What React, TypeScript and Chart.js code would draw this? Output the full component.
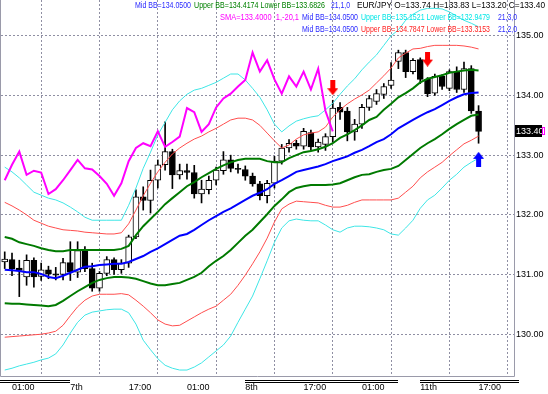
import React, { useEffect, useRef } from 'react';
import Chart from 'chart.js/auto';

// ---- Candles (EUR/JPY), one entry per bar ----
const opens = [
  131.21, 131.25, 131.11, 130.96, 131.24, 130.97, 131.08, 131.01, 131.00, 131.20,
  131.04, 131.41, 131.10, 130.77, 131.02, 131.25, 131.08, 131.19, 131.63, 132.30,
  132.24, 132.58, 132.84, 133.06, 132.67, 132.74, 132.71, 132.35, 132.42, 132.58,
  132.74, 132.92, 132.78, 132.76, 132.65, 132.52, 132.32, 132.53, 132.90, 133.12,
  133.20, 133.15, 133.38, 133.14, 133.18, 133.31, 133.80, 133.74, 133.39, 133.52,
  133.80, 133.90, 134.02, 134.17, 134.57, 134.72, 134.40, 134.60, 134.27, 134.04,
  134.32, 134.12, 134.40, 134.10, 134.45, 133.74,
];
const highs = [
  131.38, 131.36, 131.24, 131.33, 131.28, 131.19, 131.14, 131.12, 131.27, 131.55,
  131.55, 131.47, 131.19, 131.05, 131.30, 131.28, 131.25, 131.66, 132.42, 132.47,
  132.75, 132.92, 133.56, 133.10, 132.85, 132.85, 132.83, 132.58, 132.65, 132.80,
  133.06, 133.00, 132.85, 132.82, 132.70, 132.56, 132.58, 132.98, 133.18, 133.26,
  133.25, 133.45, 133.42, 133.27, 133.36, 133.92, 133.88, 133.80, 133.60, 133.85,
  134.00, 134.10, 134.20, 134.55, 134.76, 134.76, 134.62, 134.63, 134.30, 134.36,
  134.35, 134.43, 134.48, 134.56, 134.50, 133.83,
];
const lows = [
  131.10, 130.98, 130.63, 130.82, 130.79, 130.90, 130.93, 130.91, 130.91, 130.90,
  130.95, 131.05, 130.72, 130.72, 130.98, 131.00, 131.02, 131.12, 131.60, 132.08,
  132.03, 132.45, 132.75, 132.44, 132.60, 132.60, 132.28, 132.20, 132.35, 132.50,
  132.68, 132.72, 132.70, 132.58, 132.48, 132.25, 132.20, 132.45, 132.85, 133.05,
  133.10, 133.10, 133.08, 133.05, 133.08, 133.22, 133.60, 133.24, 133.25, 133.45,
  133.75, 133.85, 133.95, 134.12, 134.45, 134.30, 134.36, 134.20, 133.98, 134.00,
  134.10, 134.08, 134.05, 134.05, 133.70, 133.20,
];
const closes = [
  131.26, 131.10, 131.07, 131.24, 130.96, 131.08, 131.01, 130.99, 131.20, 131.04,
  131.40, 131.10, 130.77, 131.02, 131.25, 131.08, 131.19, 131.63, 132.30, 132.24,
  132.58, 132.84, 133.06, 132.67, 132.74, 132.71, 132.35, 132.43, 132.58, 132.75,
  132.92, 132.78, 132.76, 132.65, 132.52, 132.32, 132.53, 132.90, 133.12, 133.20,
  133.15, 133.40, 133.14, 133.22, 133.31, 133.79, 133.72, 133.39, 133.52, 133.80,
  133.95, 134.03, 134.15, 134.26, 134.72, 134.40, 134.59, 134.27, 134.03, 134.32,
  134.15, 134.40, 134.10, 134.45, 133.74, 133.40,
];

// ---- Bollinger bands (21 period), read per bar ----
const midBB = [
  131.08, 131.07, 131.06, 131.04, 131.04, 131.01, 130.96, 130.94, 130.98, 131.03,
  131.08, 131.13, 131.14, 131.16, 131.17, 131.18, 131.18, 131.21, 131.26, 131.31,
  131.38, 131.44, 131.51, 131.58, 131.65, 131.68, 131.75, 131.83, 131.91, 131.98,
  132.05, 132.11, 132.18, 132.25, 132.32, 132.37, 132.43, 132.52, 132.58, 132.65,
  132.72, 132.75, 132.78, 132.81, 132.85, 132.90, 132.94, 132.98, 133.04, 133.09,
  133.15, 133.22, 133.27, 133.35, 133.45, 133.52, 133.59, 133.66, 133.72, 133.77,
  133.84, 133.91, 133.97, 134.02, 134.04, 134.05,
];
const upperBB1 = [
  131.63, 131.60, 131.54, 131.51, 131.48, 131.44, 131.41, 131.39, 131.39, 131.41,
  131.41, 131.41, 131.41, 131.41, 131.41, 131.41, 131.43, 131.48, 131.66, 131.81,
  131.93, 132.05, 132.18, 132.28, 132.38, 132.48, 132.55, 132.63, 132.70, 132.77,
  132.83, 132.88, 132.92, 132.94, 132.94, 132.94, 132.90, 132.88, 132.88, 132.95,
  133.00, 133.05, 133.07, 133.10, 133.14, 133.20, 133.29, 133.35, 133.42, 133.50,
  133.59, 133.64, 133.76, 133.86, 133.97, 134.04, 134.12, 134.22, 134.28, 134.31,
  134.34, 134.38, 134.40, 134.42, 134.43, 134.42,
];
const lowerBB1 = [
  130.52, 130.51, 130.51, 130.50, 130.49, 130.48, 130.47, 130.49, 130.56, 130.64,
  130.72, 130.79, 130.86, 130.91, 130.94, 130.96, 130.96, 130.95, 130.93, 130.89,
  130.85, 130.82, 130.82, 130.84, 130.86, 130.91, 130.96, 131.03, 131.14, 131.23,
  131.31, 131.41, 131.53, 131.65, 131.75, 131.88, 132.01, 132.15, 132.26, 132.38,
  132.45, 132.48, 132.50, 132.50, 132.50, 132.51, 132.53, 132.58, 132.63, 132.67,
  132.68, 132.72, 132.75, 132.77, 132.82, 132.92, 133.02, 133.12, 133.20, 133.27,
  133.35, 133.44, 133.52, 133.59, 133.66, 133.68,
];
const upperBB2 = [
  132.21, 132.15, 132.08, 132.00, 131.91, 131.86, 131.81, 131.78, 131.75, 131.74,
  131.73, 131.71, 131.70, 131.69, 131.68, 131.68, 131.70, 131.85, 132.08, 132.32,
  132.53, 132.72, 132.88, 133.02, 133.12, 133.20, 133.27, 133.32, 133.39, 133.45,
  133.52, 133.59, 133.62, 133.62, 133.59, 133.50, 133.37, 133.24, 133.12, 133.17,
  133.27, 133.34, 133.37, 133.39, 133.47, 133.64, 133.76, 133.86, 133.94, 134.01,
  134.09, 134.21, 134.33, 134.46, 134.63, 134.71, 134.78, 134.79, 134.82, 134.84,
  134.84, 134.84, 134.84, 134.83, 134.81, 134.78,
];
const lowerBB2 = [
  129.95, 129.96, 129.97, 129.98, 129.99, 130.00, 130.02, 130.05, 130.15, 130.31,
  130.46, 130.57, 130.64, 130.67, 130.67, 130.67, 130.68, 130.66, 130.57, 130.47,
  130.36, 130.24, 130.17, 130.14, 130.15, 130.22, 130.29, 130.36, 130.42, 130.47,
  130.57, 130.67, 130.82, 130.99, 131.18, 131.38, 131.61, 131.88, 132.10, 132.18,
  132.23, 132.22, 132.21, 132.20, 132.16, 132.13, 132.13, 132.16, 132.21, 132.25,
  132.25, 132.25, 132.25, 132.25, 132.28, 132.38, 132.48, 132.62, 132.72, 132.80,
  132.88, 132.99, 133.09, 133.19, 133.25, 133.32,
];
const upperBB3 = [
  132.80, 132.72, 132.62, 132.50, 132.38, 132.33, 132.28, 132.25, 132.20, 132.13,
  132.05, 131.96, 131.91, 131.91, 131.91, 131.91, 131.91, 132.16, 132.45, 132.78,
  133.05, 133.34, 133.55, 133.76, 133.91, 134.02, 134.09, 134.12, 134.17, 134.22,
  134.29, 134.36, 134.36, 134.26, 134.12, 133.97, 133.76, 133.52, 133.39, 133.49,
  133.57, 133.61, 133.64, 133.66, 133.76, 133.87, 134.02, 134.16, 134.28, 134.43,
  134.56, 134.68, 134.84, 135.00, 135.10, 135.26, 135.36, 135.43, 135.46, 135.46,
  135.45, 135.40, 135.33, 135.26, 135.21, 135.15,
];
const lowerBB3 = [
  129.40, 129.43, 129.47, 129.50, 129.53, 129.57, 129.60, 129.67, 129.82, 130.02,
  130.20, 130.32, 130.37, 130.39, 130.41, 130.42, 130.42, 130.36, 130.17, 129.90,
  129.74, 129.59, 129.48, 129.43, 129.40, 129.40, 129.45, 129.52, 129.62, 129.72,
  129.82, 129.97, 130.20, 130.42, 130.64, 130.93, 131.23, 131.54, 131.78, 131.90,
  131.93, 131.91, 131.90, 131.90, 131.83, 131.75, 131.71, 131.78, 131.81, 131.81,
  131.80, 131.78, 131.75, 131.68, 131.66, 131.78, 131.91, 132.11, 132.25, 132.33,
  132.45, 132.58, 132.68, 132.80, 132.88, 132.95,
];
// SMA(1) shifted -20 bars
const smaShift = [
  132.58, 132.84, 133.06, 132.67, 132.74, 132.71, 132.35, 132.43, 132.58, 132.75,
  132.92, 132.78, 132.76, 132.65, 132.52, 132.32, 132.53, 132.90, 133.12, 133.20,
  133.15, 133.40, 133.14, 133.22, 133.31, 133.79, 133.72, 133.39, 133.52, 133.80,
  133.95, 134.03, 134.15, 134.26, 134.72, 134.40, 134.59, 134.27, 134.03, 134.32,
  134.15, 134.40, 134.10, 134.45, 133.74, 133.40,
];

// ---- Signals ----
const sellSignals = [{ x: 45, y: 134.13 }, { x: 58, y: 134.61 }];
const buySignals = [{ x: 65, y: 132.93 }];

// ---- Axes ----
const tickBars = [1, 9, 17, 25, 33, 41, 49, 57, 65];
const tickLabels = ['01:00', '7th', '17:00', '01:00', '8th', '17:00', '01:00', '11th', '17:00'];
const priceTicks = [130, 131, 132, 133, 134, 135];
const daySpans = [[-1, 9], [33, 54], [57, 70.6]];
const lastPrice = 133.4;

const FONT = "'Liberation Sans', Arial, sans-serif";

export default function App() {
  const ref = useRef<HTMLCanvasElement>(null);

  useEffect(() => {
    document.body.style.margin = '0';
    const canvas = ref.current;
    if (!canvas) return;

    const mkArrow = (color: string, down: boolean) => {
      const c = document.createElement('canvas');
      c.width = 11;
      c.height = 15;
      const g = c.getContext('2d')!;
      g.fillStyle = color;
      if (down) {
        g.fillRect(3, 0, 5, 8);
        g.beginPath();
        g.moveTo(0, 8);
        g.lineTo(11, 8);
        g.lineTo(5.5, 15);
        g.closePath();
        g.fill();
      } else {
        g.beginPath();
        g.moveTo(5.5, 0);
        g.lineTo(11, 7);
        g.lineTo(0, 7);
        g.closePath();
        g.fill();
        g.fillRect(3, 7, 5, 8);
      }
      return c;
    };

    const idx = closes.map((_, i) => i);
    const pts = (arr: number[]) => arr.map((v, i) => ({ x: i, y: v }));
    const gridColor = '#8f8fa3';

    const lineDs = (label: string, arr: number[], color: string, width: number, order: number) => ({
      type: 'line' as const,
      label,
      data: pts(arr),
      borderColor: color,
      borderWidth: width,
      pointRadius: 0,
      tension: 0,
      fill: false,
      order,
    });

    const overlay = {
      id: 'overlay',
      afterDraw(chart: any) {
        const { ctx, chartArea, scales } = chart;
        const xs = scales.x;
        const ys = scales.y;
        ctx.save();
        // frame
        ctx.strokeStyle = '#9a9aaa';
        ctx.lineWidth = 1;
        ctx.beginPath();
        ctx.moveTo(chartArea.left - 0.5, chartArea.top);
        ctx.lineTo(chartArea.left - 0.5, chartArea.bottom + 0.5);
        ctx.lineTo(chartArea.right + 0.5, chartArea.bottom + 0.5);
        ctx.lineTo(chartArea.right + 0.5, chartArea.top);
        ctx.stroke();
        // day separator double lines
        ctx.strokeStyle = '#000';
        daySpans.forEach(([a, b]) => {
          const x1 = Math.max(0, Math.round(xs.getPixelForValue(a)));
          const x2 = Math.round(xs.getPixelForValue(b));
          [4.5, 6.5].forEach((dy) => {
            ctx.beginPath();
            ctx.moveTo(x1, chartArea.bottom + dy);
            ctx.lineTo(x2, chartArea.bottom + dy);
            ctx.stroke();
          });
        });
        // current price label
        const py = Math.round(ys.getPixelForValue(lastPrice));
        ctx.fillStyle = '#000';
        ctx.fillRect(chartArea.right + 1, py - 6, 27, 12);
        ctx.fillStyle = '#fff';
        ctx.font = `9px ${FONT}`;
        ctx.textBaseline = 'middle';
        ctx.textAlign = 'left';
        ctx.fillText(lastPrice.toFixed(2), chartArea.right + 2, py + 0.5);
        ctx.strokeStyle = '#ff00ff';
        ctx.strokeRect(chartArea.right + 28.5, py - 3.5, 2, 7);
        // indicator legends
        const blue = '#2a2aff';
        const items: [string, string, number, number, number][] = [
          ['Mid BB=134.0500', blue, 135, 6, 56],
          ['Upper BB=134.4174 Lower BB=133.6826', '#008000', 194, 6, 131],
          ['21,1,0', blue, 331, 6, 19],
          ['EUR/JPY O=133.74 H=133.83 L=133.20 C=133.40', '#000', 357, 6, 188],
          ['SMA=133.4000  1,-20,1', '#ff00ff', 220, 18, 79],
          ['Mid BB=134.0500', blue, 302, 18, 56],
          ['Upper BB=135.1521 Lower BB=132.9479', '#00e6e6', 361, 18, 129],
          ['21,3,0', blue, 498, 18, 19],
          ['Mid BB=134.0500', blue, 302, 30, 56],
          ['Upper BB=134.7847 Lower BB=133.3153', '#ff2020', 361, 30, 129],
          ['21,2,0', blue, 498, 30, 19],
        ];
        items.forEach(([t, c, x, y, w]) => {
          ctx.fillStyle = c;
          ctx.fillText(t, x, y, w);
        });
        ctx.restore();
      },
    };

    const chart = new Chart(canvas, {
      type: 'bar',
      data: {
        datasets: [
          {
            type: 'bar',
            label: 'wick',
            data: idx.map((i) => ({ x: i, y: [lows[i], highs[i]] })) as any,
            backgroundColor: '#000',
            borderWidth: 0,
            barThickness: 1,
            grouped: false,
            order: 20,
          },
          {
            type: 'bar',
            label: 'body',
            data: idx.map((i) => ({ x: i, y: [opens[i], closes[i]] })) as any,
            backgroundColor: idx.map((i) => (closes[i] >= opens[i] ? '#ffffff' : '#000000')),
            borderColor: '#000',
            borderWidth: 1,
            borderSkipped: false,
            barThickness: 6,
            grouped: false,
            order: 19,
          },
          lineDs('Upper BB 3', upperBB3, '#3ee6e6', 1, 10),
          lineDs('Lower BB 3', lowerBB3, '#3ee6e6', 1, 10),
          lineDs('Upper BB 2', upperBB2, '#ff4d4d', 1, 9),
          lineDs('Lower BB 2', lowerBB2, '#ff4d4d', 1, 9),
          lineDs('Upper BB 1', upperBB1, '#007a00', 2, 8),
          lineDs('Lower BB 1', lowerBB1, '#007a00', 2, 8),
          lineDs('Mid BB', midBB, '#0000ff', 2, 7),
          lineDs('SMA', smaShift, '#ff00ff', 2, 6),
          {
            type: 'line',
            label: 'sell',
            data: sellSignals,
            showLine: false,
            pointStyle: mkArrow('#ff0000', true) as any,
            pointRadius: 6,
            order: 1,
          },
          {
            type: 'line',
            label: 'buy',
            data: buySignals,
            showLine: false,
            pointStyle: mkArrow('#0000ff', false) as any,
            pointRadius: 6,
            order: 1,
          },
        ] as any,
      },
      options: {
        responsive: false,
        animation: false,
        devicePixelRatio: 1,
        events: [],
        layout: { autoPadding: false, padding: { left: 1, right: 0, top: 0, bottom: 0 } },
        plugins: { legend: { display: false }, tooltip: { enabled: false } },
        scales: {
          x: {
            type: 'linear',
            min: -0.51,
            max: 69.86,
            offset: false,
            afterBuildTicks: (s: any) => {
              s.ticks = tickBars.map((v) => ({ value: v }));
            },
            afterFit: (s: any) => {
              s.height = 18;
              s.paddingLeft = 0;
              s.paddingRight = 0;
            },
            grid: { color: gridColor, drawTicks: false, lineWidth: 1 },
            border: { display: false, dash: [2, 2] },
            ticks: {
              align: 'start',
              padding: 6,
              autoSkip: false,
              maxRotation: 0,
              color: '#000',
              font: { size: 9, family: FONT },
              callback: (_v: any, i: number) => tickLabels[i],
            },
          },
          y: {
            type: 'linear',
            position: 'right',
            min: 129.3,
            max: 135.6,
            afterBuildTicks: (s: any) => {
              s.ticks = priceTicks.map((v) => ({ value: v }));
            },
            afterFit: (s: any) => {
              s.width = 34;
              s.paddingTop = 0;
              s.paddingBottom = 0;
            },
            grid: { color: gridColor, drawTicks: false, lineWidth: 1 },
            border: { display: false, dash: [2, 2] },
            ticks: {
              padding: 2,
              color: '#000',
              font: { size: 9, family: FONT },
              callback: (v: any) => Number(v).toFixed(2),
            },
          },
        },
      } as any,
      plugins: [overlay],
    });

    return () => chart.destroy();
  }, []);

  return (
    <div style={{ width: 548, height: 394, background: '#fff' }}>
      <canvas ref={ref} width={548} height={394} style={{ display: 'block' }} />
    </div>
  );
}
